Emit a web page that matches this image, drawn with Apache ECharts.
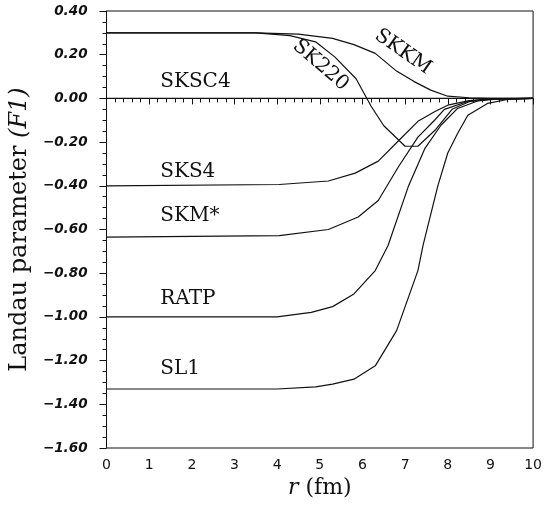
<!DOCTYPE html>
<html lang="en">
<head>
<meta charset="UTF-8">
<title>Landau parameter F1</title>
<script src="https://cdn.jsdelivr.net/npm/echarts@6/dist/echarts.min.js"></script>
<style>
    html, body { margin: 0; padding: 0; background: #fff; }
    #main { width: 545px; height: 506px; }
</style>
</head>
<body>
<div id="main"></div>
<script>
    // r (fm) and F1 values
    var skkmR  = [0, 3.5, 4.5, 5.3, 5.8, 6.3, 6.8, 7.2, 7.6, 8.0, 8.5, 9.0, 10];
    var skkmF  = [0.30, 0.30, 0.294, 0.275, 0.246, 0.206, 0.125, 0.078, 0.038, 0.01, 0.003, 0, 0];
    var sk220R = [0, 3.5, 4.3, 4.9, 5.35, 5.85, 6.2, 6.5, 7.0, 7.3, 7.7, 8.1, 8.5, 9.0, 10];
    var sk220F = [0.30, 0.30, 0.287, 0.259, 0.19, 0.09, -0.035, -0.125, -0.219, -0.219, -0.146, -0.05, -0.015, -0.003, 0];
    var sksc4R = [0, 10];
    var sksc4F = [0, 0];
    var sks4R  = [0, 4.05, 5.2, 5.83, 6.37, 6.84, 7.3, 7.7, 8.0, 8.5, 9.0, 10];
    var sks4F  = [-0.40, -0.394, -0.378, -0.342, -0.287, -0.195, -0.105, -0.06, -0.031, -0.01, -0.002, 0];
    var skmR   = [0, 4.05, 5.2, 5.9, 6.37, 6.84, 7.3, 7.69, 7.92, 8.5, 9.0, 10];
    var skmF   = [-0.635, -0.628, -0.60, -0.543, -0.467, -0.314, -0.177, -0.1, -0.05, -0.012, -0.003, 0];
    var ratpR  = [0, 4.0, 4.8, 5.3, 5.8, 6.3, 6.6, 7.07, 7.46, 7.84, 8.23, 8.7, 9.2, 10];
    var ratpF  = [-1.0, -1.0, -0.979, -0.953, -0.895, -0.788, -0.673, -0.406, -0.23, -0.123, -0.046, -0.012, -0.002, 0];
    var sl1R   = [0, 4.0, 4.9, 5.3, 5.8, 6.3, 6.8, 7.3, 7.42, 7.77, 8.0, 8.23, 8.47, 8.93, 9.4, 10];
    var sl1F   = [-1.33, -1.33, -1.32, -1.308, -1.285, -1.224, -1.063, -0.788, -0.673, -0.398, -0.25, -0.161, -0.077, -0.023, -0.005, 0];

    var curves = [
        { name: 'SKKM',  r: skkmR,  f: skkmF },
        { name: 'SK220', r: sk220R, f: sk220F },
        { name: 'SKSC4', r: sksc4R, f: sksc4F },
        { name: 'SKS4',  r: sks4R,  f: sks4F },
        { name: 'SKM*',  r: skmR,   f: skmF },
        { name: 'RATP',  r: ratpR,  f: ratpF },
        { name: 'SL1',   r: sl1R,   f: sl1F }
    ];

    // where each curve name is written: [r, F1, rotation in degrees]
    var curveLabels = [
        { text: 'SKSC4', at: [1.26, 0.074],  rot: 0,   align: 'left' },
        { text: 'SKS4',  at: [1.26, -0.338], rot: 0,   align: 'left' },
        { text: 'SKM*',  at: [1.26, -0.537], rot: 0,   align: 'left' },
        { text: 'RATP',  at: [1.26, -0.918], rot: 0,   align: 'left' },
        { text: 'SL1',   at: [1.26, -1.239], rot: 0,   align: 'left' },
        { text: 'SK220', at: [5.02, 0.152],  rot: -41, align: 'center' },
        { text: 'SKKM',  at: [6.95, 0.213],  rot: -35, align: 'center' }
    ];

    var serif = 'DejaVu Serif';
    var ink = '#111';

    function fmtY(v) {
        if (Math.abs(v) < 1e-9) return '0.00';
        return (v < 0 ? '\u2212' : '') + Math.abs(v).toFixed(2);
    }

    var myChart = echarts.init(document.getElementById('main'));
    var option = {
        animation: false,
        backgroundColor: '#fff',
        grid: {
            left: 106, right: 9, top: 11, bottom: 58,
            show: true, borderColor: ink, borderWidth: 1
        },
        xAxis: {
            type: 'value', min: 0, max: 10, interval: 1,
            name: '{i|r} (fm)',
            nameLocation: 'middle',
            nameGap: 26,
            nameTextStyle: {
                fontFamily: serif, fontSize: 22, color: ink,
                rich: { i: { fontFamily: serif, fontSize: 22, fontStyle: 'italic', color: ink } }
            },
            axisLine: { lineStyle: { color: ink, width: 1 } },
            axisTick: { length: 6, lineStyle: { color: ink } },
            minorTick: { show: true, splitNumber: 5, length: 4, lineStyle: { color: ink } },
            splitLine: { show: false },
            axisLabel: { fontFamily: 'DejaVu Sans', fontSize: 14, color: ink, margin: 10 }
        },
        yAxis: {
            type: 'value', min: -1.6, max: 0.4, interval: 0.2,
            name: 'Landau parameter {i|(F1)}',
            nameLocation: 'middle',
            nameRotate: 90,
            nameGap: 74,
            nameTextStyle: {
                fontFamily: serif, fontSize: 24, color: ink,
                rich: { i: { fontFamily: serif, fontSize: 24, fontStyle: 'italic', color: ink } }
            },
            axisLine: { lineStyle: { color: ink, width: 1 } },
            axisTick: { length: 7, lineStyle: { color: ink } },
            minorTick: { show: true, splitNumber: 4, length: 4, lineStyle: { color: ink } },
            splitLine: { show: false },
            axisLabel: {
                fontFamily: 'DejaVu Sans', fontSize: 13.5, fontWeight: 'bold', fontStyle: 'italic',
                color: ink, margin: 19, formatter: fmtY
            }
        },
        series: curves.map(function (c) {
            return {
                name: c.name,
                type: 'line',
                showSymbol: false,
                symbol: 'none',
                lineStyle: { color: ink, width: 1.2 },
                data: c.r.map(function (r, i) { return [r, c.f[i]]; })
            };
        })
    };
    myChart.setOption(option);

    // curve names placed in data coordinates
    myChart.setOption({
        graphic: curveLabels.map(function (l) {
            var p = myChart.convertToPixel({ gridIndex: 0 }, l.at);
            return {
                type: 'text',
                x: p[0], y: p[1],
                rotation: l.rot * Math.PI / 180,
                style: {
                    text: l.text, fill: ink,
                    font: '20px "' + serif + '"',
                    textAlign: l.align, textVerticalAlign: 'middle'
                }
            };
        })
    });
</script>
</body>
</html>
